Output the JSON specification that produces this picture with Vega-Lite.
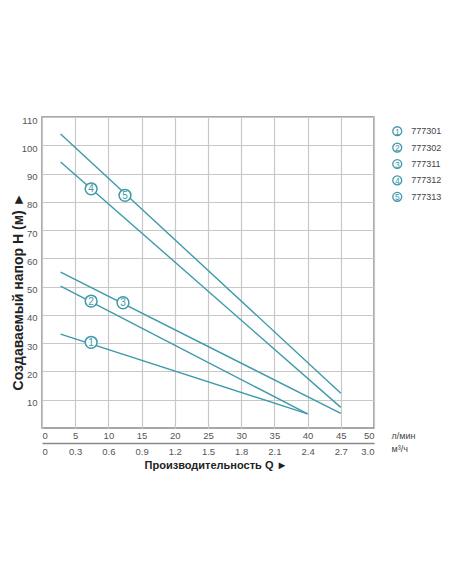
{
  "$schema": "https://vega.github.io/schema/vega-lite/v6.json",
  "width": 332,
  "height": 311,
  "autosize": {"type": "none"},
  "padding": {"left": 42, "top": 117, "right": 78, "bottom": 156},
  "background": "white",
  "datasets": {
    "curves": [
      {"id": "1", "code": "777301", "q": 2.8, "h": 33.2},
      {"id": "1", "code": "777301", "q": 40, "h": 5},
      {"id": "2", "code": "777302", "q": 2.8, "h": 50.2},
      {"id": "2", "code": "777302", "q": 40, "h": 5},
      {"id": "3", "code": "777311", "q": 2.8, "h": 55.1},
      {"id": "3", "code": "777311", "q": 45, "h": 5.2},
      {"id": "4", "code": "777312", "q": 2.8, "h": 94.1},
      {"id": "4", "code": "777312", "q": 45, "h": 7.3},
      {"id": "5", "code": "777313", "q": 2.8, "h": 104},
      {"id": "5", "code": "777313", "q": 45, "h": 12.3}
    ],
    "markers": [
      {"id": "1", "code": "777301", "q": 7.4, "h": 30.3},
      {"id": "2", "code": "777302", "q": 7.4, "h": 44.9},
      {"id": "3", "code": "777311", "q": 12.2, "h": 44.3},
      {"id": "4", "code": "777312", "q": 7.4, "h": 84.6},
      {"id": "5", "code": "777313", "q": 12.5, "h": 82.3}
    ],
    "m3h": [{"m3h": 0}, {"m3h": 3}]
  },
  "config": {
    "font": "Liberation Sans",
    "view": {"stroke": "#8a8a8a", "strokeWidth": 1.5},
    "axis": {
      "labelColor": "#555555",
      "labelFontSize": 9.5,
      "labelFont": "Liberation Sans",
      "titleFont": "Liberation Sans",
      "ticks": false,
      "domain": false,
      "gridColor": "#c8c8c8",
      "gridWidth": 1.2
    }
  },
  "title": {
    "text": "Производительность Q ►",
    "orient": "bottom",
    "anchor": "middle",
    "frame": "group",
    "fontSize": 11,
    "fontWeight": "bold",
    "color": "#222222",
    "offset": 4,
    "dx": 8
  },
  "layer": [
    {
      "data": {"name": "curves"},
      "mark": {"type": "line", "color": "#3d9aa8", "strokeWidth": 1.4},
      "encoding": {
        "x": {
          "field": "q",
          "type": "quantitative",
          "scale": {"domain": [0, 50], "nice": false},
          "axis": {
            "values": [0, 5, 10, 15, 20, 25, 30, 35, 40, 45, 50],
            "grid": true,
            "labelPadding": 2,
            "title": "л/мин",
            "titleFontSize": 9,
            "titleFontWeight": "normal",
            "titleColor": "#444444",
            "titleX": 349,
            "titleY": 7,
            "titleAlign": "left",
            "titleBaseline": "middle"
          }
        },
        "y": {
          "field": "h",
          "type": "quantitative",
          "scale": {"domain": [0, 110], "nice": false},
          "axis": {
            "values": [10, 20, 30, 40, 50, 60, 70, 80, 90, 100, 110],
            "grid": true,
            "labelPadding": 5,
            "labelOffset": 3,
            "title": "Создаваемый напор H (м) ►",
            "titleFontSize": 14,
            "titleFontWeight": "bold",
            "titleColor": "#222222",
            "titleX": -24,
            "titleY": 174,
            "titleAlign": "center",
            "titleBaseline": "middle"
          }
        },
        "detail": {"field": "id"}
      }
    },
    {
      "data": {"name": "markers"},
      "mark": {"type": "point", "shape": "circle", "filled": true, "fill": "white", "stroke": "#3d9aa8", "strokeWidth": 1.5, "size": 140, "opacity": 1},
      "encoding": {
        "x": {"field": "q", "type": "quantitative", "scale": {"domain": [0, 50], "nice": false}, "axis": null},
        "y": {"field": "h", "type": "quantitative", "scale": {"domain": [0, 110], "nice": false}, "axis": null}
      }
    },
    {
      "data": {"name": "markers"},
      "mark": {"type": "text", "color": "#3d9aa8", "fontSize": 10, "align": "center", "baseline": "middle", "dy": 0.5},
      "encoding": {
        "x": {"field": "q", "type": "quantitative", "scale": {"domain": [0, 50], "nice": false}, "axis": null},
        "y": {"field": "h", "type": "quantitative", "scale": {"domain": [0, 110], "nice": false}, "axis": null},
        "text": {"field": "id"}
      }
    },
    {
      "data": {"name": "m3h"},
      "mark": {"type": "rule", "opacity": 0},
      "encoding": {
        "x": {
          "field": "m3h",
          "type": "quantitative",
          "scale": {"domain": [0, 3], "nice": false},
          "axis": {
            "orient": "bottom",
            "offset": 15,
            "values": [0, 0.3, 0.6, 0.9, 1.2, 1.5, 1.8, 2.1, 2.4, 2.7, 3.0],
            "labelExpr": "datum.value === 0 ? '0' : format(datum.value, '.1f')",
            "grid": false,
            "domain": true,
            "domainColor": "#8a8a8a",
            "domainWidth": 1.3,
            "labelPadding": 3,
            "title": "м³/ч",
            "titleFontSize": 9,
            "titleFontWeight": "normal",
            "titleColor": "#444444",
            "titleX": 349,
            "titleY": 5,
            "titleAlign": "left",
            "titleBaseline": "middle"
          }
        }
      }
    },
    {
      "data": {"name": "markers"},
      "encoding": {
        "x": {"datum": 53.5, "type": "quantitative", "scale": {"domain": [0, 50], "nice": false}, "axis": null},
        "y": {"field": "id", "type": "ordinal", "scale": {"type": "point", "range": [6, 88]}, "axis": null}
      },
      "layer": [
        {"mark": {"type": "point", "shape": "circle", "filled": true, "fill": "white", "stroke": "#3d9aa8", "strokeWidth": 1.3, "size": 80, "opacity": 1, "clip": false}},
        {"mark": {"type": "text", "color": "#3d9aa8", "fontSize": 8.5, "align": "center", "baseline": "middle", "dy": 0.5}, "encoding": {"text": {"field": "id"}}},
        {"mark": {"type": "text", "color": "#444444", "fontSize": 9, "align": "left", "baseline": "middle", "dx": 14}, "encoding": {"text": {"field": "code"}}}
      ]
    }
  ],
  "resolve": {"scale": {"x": "independent", "y": "independent"}}
}
